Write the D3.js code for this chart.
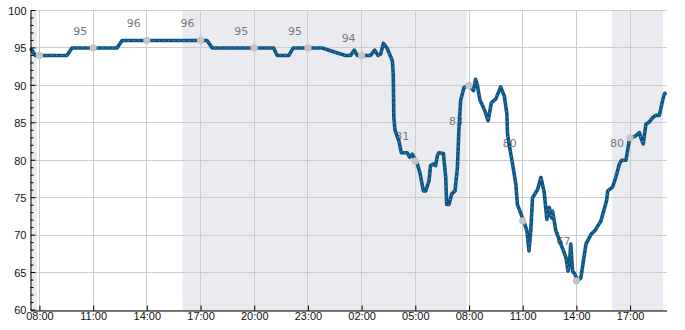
<!DOCTYPE html>
<html>
<head>
<meta charset="utf-8">
<title>Saturation chart</title>
<script src="https://d3js.org/d3.v7.min.js"></script>
<style>
  body { margin: 0; background: #fff; }
  svg { display: block; font-family: "DejaVu Sans", sans-serif; }
  .grid line { stroke: #cccccc; shape-rendering: crispEdges; }
  .axis text { font-size: 11px; fill: #111; }
  .lbl { font-size: 11px; fill: #777; }
</style>
</head>
<body>
<svg id="chart" width="685" height="330"></svg>
<script>
// readings: "day HH:MM" and value
const times = [
  "1 07:30","1 07:46","1 09:32","1 09:49","1 12:20","1 12:37","1 17:22","1 17:39",
  "1 21:05","1 21:17","1 21:56","1 22:11","1 23:48","2 00:26","2 01:06","2 01:23",
  "2 01:35","2 01:46","2 02:30","2 02:44","2 02:55","2 03:04","2 03:13","2 03:26",
  "2 03:43","2 03:46","2 03:48","2 03:52","2 04:05","2 04:13","2 04:33","2 04:41",
  "2 04:50","2 04:55","2 05:04","2 05:16","2 05:27","2 05:35","2 05:46","2 05:51",
  "2 06:00","2 06:08","2 06:14","2 06:19","2 06:34","2 06:42","2 06:45","2 06:53",
  "2 07:02","2 07:13","2 07:21","2 07:26","2 07:32","2 07:43","2 08:00","2 08:15",
  "2 08:22","2 08:28","2 08:37","2 08:53","2 09:04","2 09:15","2 09:30","2 09:46",
  "2 09:58","2 10:07","2 10:09","2 10:18","2 10:26","2 10:37","2 10:42","2 11:03",
  "2 11:14","2 11:21","2 11:27","2 11:33","2 11:50","2 12:01","2 12:12","2 12:21",
  "2 12:29","2 12:37","2 12:40","2 12:51","2 13:08","2 13:25","2 13:32","2 13:38",
  "2 13:41","2 13:47","2 13:55","2 14:04","2 14:15","2 14:32","2 14:49","2 15:02",
  "2 15:22","2 15:41","2 15:45","2 16:01","2 16:12","2 16:24","2 16:32","2 16:46",
  "2 16:57","2 17:05","2 17:20","2 17:31","2 17:36","2 17:44","2 17:53","2 18:04",
  "2 18:16","2 18:27","2 18:38","2 18:49","2 18:55","2 19:02"
];
const values = [
  95,94,94,95,95,96,96,95,
  95,94,94,95,95,94.5,94,94,
  94.7,94,94,94.7,94,94.2,95.6,94.9,
  93.3,91.5,85.7,84,82.6,81,81,80.4,
  80.8,80.4,79.9,78.2,75.9,75.9,77.3,79.3,
  79.5,79.3,80.6,81,80.9,77.7,74.1,74.1,
  75.5,75.9,79,84,88,89.7,90.1,89.3,
  90.8,90,88,86.6,85.3,87.7,88.2,89.8,
  88.6,86.2,83.5,81.3,79.5,76.8,74.1,71.9,
  70.6,67.9,70.6,75,76.1,77.7,75.7,72.1,
  73.7,72.3,73.2,70.6,68.8,67,65.2,67,
  68.8,65.2,64.8,63.9,64.3,68.8,70.1,70.6,
  71.9,74.6,75.9,76.4,77.7,79.5,80,80,
  82.6,83,83.3,83.7,83,82.2,84.8,85.1,
  85.7,86,86,88,88.9,89
];

// marked readings every 3 hours
const markTimes = ["1 08:00","1 11:00","1 14:00","1 17:00","1 20:00","1 23:00",
                   "2 02:00","2 05:00","2 08:00","2 11:00","2 14:00","2 17:00"];
const markValues = [94,95,96,96,95,95,94,79.9,90,71.9,63.9,83];
const markLabels = ["","95","96","96","95","95","94","81","83","80","67","80"];

// shaded periods
const bandStarts = ["1 07:30","1 16:00","2 16:00"];
const bandEnds   = ["1 07:51","2 07:52","2 18:51"];

const yTicks = [60,65,70,75,80,85,90,95,100];

const parseT = s => {
  const [d, hm] = s.split(" ");
  const [h, m] = hm.split(":").map(Number);
  return new Date(2024, 2, +d, h, m);
};

const svg = d3.select("#chart");
const margin = {top: 10, right: 19, bottom: 20, left: 30};
const W = 685 - margin.left - margin.right;
const H = 330 - margin.top - margin.bottom;
const g = svg.append("g").attr("transform", `translate(${margin.left + 0.5},${margin.top + 0.5})`);

const x = d3.scaleTime().domain([parseT("1 07:30"), parseT("2 19:02")]).range([0, W]);
const y = d3.scaleLinear().domain([60, 100]).range([H - 0.5, 0]);

// bands
g.selectAll("rect.band").data(bandStarts).enter().append("rect")
  .attr("class", "band")
  .attr("x", (d) => x(parseT(d)))
  .attr("y", 0)
  .attr("width", (d, i) => x(parseT(bandEnds[i])) - x(parseT(d)))
  .attr("height", H)
  .attr("fill", "#eaebf1");

const xTickVals = markTimes.map(parseT);

// grid
const grid = g.append("g").attr("class", "grid");
grid.selectAll("line.h").data(yTicks).enter().append("line")
  .attr("x1", 0).attr("x2", W).attr("y1", d => y(d)).attr("y2", d => y(d));
grid.selectAll("line.v").data(xTickVals).enter().append("line")
  .attr("x1", d => x(d)).attr("x2", d => x(d)).attr("y1", 0).attr("y2", H);

// labels sit under the line
g.selectAll("text.lbl").data(markTimes).enter().append("text")
  .attr("class", "lbl")
  .attr("x", d => x(parseT(d)) - 13)
  .attr("y", (d, i) => y(+markLabels[i] || 0) - 16)
  .attr("text-anchor", "middle")
  .attr("dominant-baseline", "middle")
  .text((d, i) => markLabels[i]);

const pts = times.map((t, i) => [parseT(t), values[i]]);
const line = d3.line().x(d => x(d[0])).y(d => y(d[1]));

g.append("path").datum(pts)
  .attr("d", line)
  .attr("fill", "none")
  .attr("stroke", "#0b5686")
  .attr("stroke-width", 3.6)
  .attr("stroke-linejoin", "round");
g.append("path").datum(pts)
  .attr("d", line)
  .attr("fill", "none")
  .attr("stroke", "#8fb3cc")
  .attr("stroke-width", 0.8)
  .attr("stroke-dasharray", "1,4");

g.selectAll("circle.mark").data(markTimes).enter().append("circle")
  .attr("class", "mark")
  .attr("cx", d => x(parseT(d)))
  .attr("cy", (d, i) => y(markValues[i]))
  .attr("r", 3.6)
  .attr("fill", "#c4c4c4");

// axes
const yAxis = g.append("g").attr("class", "axis")
  .call(d3.axisLeft(y).tickValues(yTicks).tickSize(0).tickPadding(4));
yAxis.select(".domain").attr("stroke", "#000");
yAxis.selectAll("text").attr("dy", "0.35em");
g.append("g").selectAll("line").data(d3.range(60, 101)).enter().append("line")
  .attr("x1", 0).attr("x2", d => d % 5 === 0 ? 5 : 3)
  .attr("y1", d => y(d)).attr("y2", d => y(d))
  .attr("stroke", "#000");

const xAxis = g.append("g").attr("class", "axis")
  .attr("transform", `translate(0,${H})`)
  .call(d3.axisBottom(x).tickValues(xTickVals).tickFormat(d3.timeFormat("%H:%M"))
    .tickSizeInner(-5).tickSizeOuter(0).tickPadding(2));
xAxis.select(".domain").attr("stroke", "#000");
xAxis.selectAll(".tick line").attr("stroke", "#000");
xAxis.selectAll("text").attr("dy", "0.71em");
</script>
</body>
</html>
